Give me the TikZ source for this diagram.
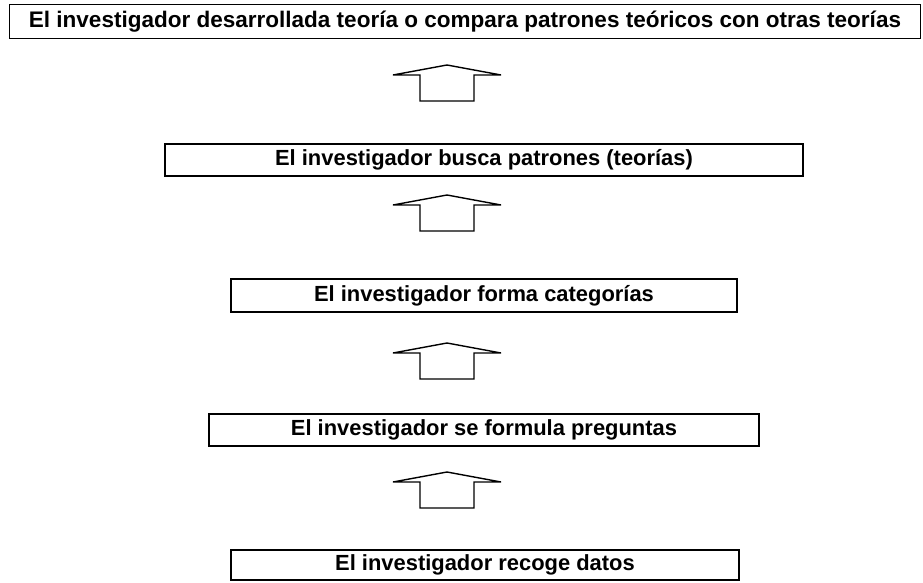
\documentclass[tikz,border=0pt]{standalone}
\usepackage{fontspec}
\setmainfont{Liberation Sans}
\begin{document}
\begin{tikzpicture}[x=1bp,y=-1bp,
  stepbox/.style={draw=black,line width=2.4bp,inner sep=0pt,font=\bfseries\fontsize{22}{24}\selectfont},
  topbox/.style={draw=black,line width=1bp,inner sep=0pt,font=\bfseries\fontsize{22.6}{24}\selectfont},
  blockarrow/.pic={\draw[line width=1.4bp,line join=miter]
     (-27,18) -- (-27,-8) -- (-54,-8) -- (0,-18) -- (54,-8) -- (27,-8) -- (27,18) -- cycle;}]
\useasboundingbox (0,0) rectangle (923,583);
\node[topbox,minimum width=910bp,minimum height=34bp] (b1) at (465,21.5) {El investigador desarrollada teoría o compara patrones teóricos con otras teorías};
\node[stepbox,minimum width=638bp,minimum height=32bp] (b2) at (484,160) {El investigador busca patrones (teorías)};
\node[stepbox,minimum width=506bp,minimum height=33bp] (b3) at (484,295.5) {El investigador forma categorías};
\node[stepbox,minimum width=550bp,minimum height=32bp] (b4) at (484,430) {El investigador se formula preguntas};
\node[stepbox,minimum width=508bp,minimum height=30bp] (b5) at (485,565) {El investigador recoge datos};
\pic (a1) at (447,83) {blockarrow};
\pic (a2) at (447,213) {blockarrow};
\pic (a3) at (447,361) {blockarrow};
\pic (a4) at (447,490) {blockarrow};
\end{tikzpicture}
\end{document}
